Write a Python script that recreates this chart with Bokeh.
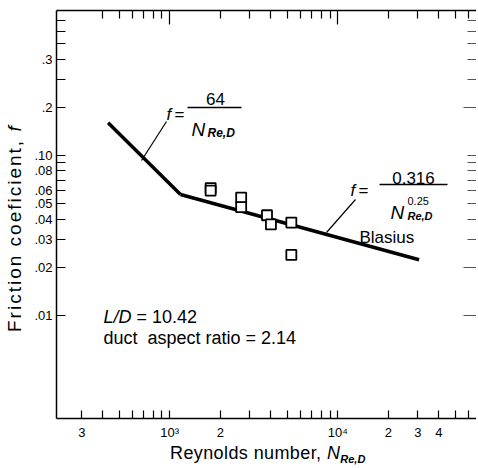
import math

from bokeh.embed import file_html
from bokeh.layouts import column, row
from bokeh.models import Div, FixedTicker, Label, LogAxis, Range1d
from bokeh.plotting import figure
from bokeh.resources import INLINE

# Measured friction coefficients (square symbols)
re_data = [1753, 1753, 2664, 2664, 3795, 4005, 5297, 5297]
f_data = [0.0626, 0.0604, 0.0546, 0.0475, 0.0423, 0.0371, 0.0381, 0.0239]

# Laminar correlation f = 64/Re and Blasius correlation f = 0.316/Re^0.25
laminar_re = [430, 1160]
laminar_f = [0.160, 0.057]
blasius_re = [1160, 30500]
blasius_f = [0.057, 0.0223]

# Axis ticks
x_major = [300, 1000, 2000, 10000, 20000, 30000, 40000]
x_labels = ["3", "10³", "2", "10⁴", "2", "3", "4"]
x_minor = [400, 500, 600, 700, 800, 900, 3000, 4000, 5000, 6000, 7000, 8000, 9000, 50000, 60000]
y_major = [0.01, 0.02, 0.03, 0.04, 0.05, 0.06, 0.08, 0.1, 0.2, 0.4]
y_labels = [".01", ".02", ".03", ".04", ".05", ".06", ".08", ".10", ".2", ".3"]
y_minor = [0.07, 0.09, 0.3, 0.5, 0.6, 0.7]

XMIN, XMAX = 212.0, 67000.0
YMIN, YMAX = 0.00227, 0.806
YLAB_W = 30                      # width of the column holding the y title
LEFT, TOP, FW, FH = 56, 10, 420, 408
BOTTOM = 24
XLAB_H = 26
FONT = "Liberation Sans"

p = figure(
    x_axis_type="log", y_axis_type="log",
    x_range=Range1d(XMIN, XMAX), y_range=Range1d(YMIN, YMAX),
    frame_width=FW, frame_height=FH,
    min_border_left=LEFT - YLAB_W, min_border_right=0, min_border_top=TOP,
    min_border_bottom=BOTTOM,
    output_backend="svg", toolbar_location=None,
)
p.outline_line_color = None
p.grid.visible = False
p.background_fill_color = "white"
p.border_fill_color = "white"

LX0, LX1 = math.log10(XMIN), math.log10(XMAX)
LY0, LY1 = math.log10(YMIN), math.log10(YMAX)


def dx(px):
    return 10 ** (LX0 + (px - LEFT) / FW * (LX1 - LX0))


def dy(py):
    return 10 ** (LY1 - (py - TOP) / FH * (LY1 - LY0))


def style_axis(ax, major_in, minor_in, width=1.5, color="black"):
    ax.major_tick_in = major_in
    ax.major_tick_out = 0
    ax.minor_tick_in = minor_in
    ax.minor_tick_out = 0
    ax.major_tick_line_color = color
    ax.minor_tick_line_color = color
    ax.major_tick_line_width = 1.2
    ax.minor_tick_line_width = 1.2
    ax.axis_line_width = width
    ax.axis_line_color = "black"


def hide_labels(ax):
    ax.major_label_text_font_size = "1px"
    ax.major_label_text_color = None
    ax.major_label_standoff = 0


xb = p.xaxis[0]
xb.ticker = FixedTicker(ticks=x_major, minor_ticks=x_minor)
xb.major_label_overrides = dict(zip(x_major, x_labels))
xb.major_label_text_font = FONT
xb.major_label_text_font_size = "13px"
xb.major_label_text_color = "black"
xb.major_label_standoff = 6
style_axis(xb, 8, 8)

yl = p.yaxis[0]
yl.ticker = FixedTicker(ticks=y_major, minor_ticks=y_minor)
yl.major_label_overrides = dict(zip(y_major, y_labels))
yl.major_label_text_font = FONT
yl.major_label_text_font_size = "13px"
yl.major_label_text_color = "black"
yl.major_label_standoff = 4
style_axis(yl, 9, 9)

top = LogAxis(ticker=FixedTicker(ticks=[1000, 10000], minor_ticks=x_minor + [2000, 20000, 30000, 40000]))
hide_labels(top)
style_axis(top, 14, 8)
p.add_layout(top, "above")

right = LogAxis(ticker=FixedTicker(ticks=[0.01, 0.02, 0.2],
                                   minor_ticks=[0.03, 0.04, 0.05, 0.06, 0.07, 0.08, 0.09, 0.1, 0.3, 0.4, 0.5, 0.6, 0.7]))
hide_labels(right)
style_axis(right, 13, 9, color="#555555")
right.axis_line_color = None
p.add_layout(right, "right")

# Correlation lines and data
p.line(laminar_re, laminar_f, line_color="black", line_width=3.5)
p.line(blasius_re, blasius_f, line_color="black", line_width=3.5)
p.scatter(re_data, f_data, marker="square", size=10, fill_color="white",
          line_color="black", line_width=1.8)

# Leader lines and fraction bars
seg_x0 = [dx(141), dx(326), dx(187), dx(379)]
seg_y0 = [dy(160), dy(232), dy(107), dy(184)]
seg_x1 = [dx(166), dx(355), dx(241), dx(447)]
seg_y1 = [dy(121), dy(199), dy(107), dy(184)]
p.segment(seg_x0, seg_y0, seg_x1, seg_y1, line_color="black",
          line_width=[1.2, 1.2, 1.4, 1.4])


def lab(px, py, text, size=17, style="normal", align="left"):
    p.add_layout(Label(
        x=dx(px), y=dy(py), text=text, text_font=FONT,
        text_font_size=f"{size}px", text_font_style=style, text_color="black",
        text_align=align, text_baseline="alphabetic",
    ))


# f = 64 / N_Re,D
lab(166, 114, "f", style="italic")
lab(174, 114, "=")
lab(215, 98, "64", align="center")
lab(191, 129, "N", size=19, style="italic")
lab(207, 132, "Re,D", size=12, style="bold italic")

# f = 0.316 / N^0.25_Re,D  (Blasius)
lab(350, 190, "f", style="italic")
lab(358, 190, "=")
lab(413, 177, "0.316", align="center")
lab(390, 212, "N", size=19, style="italic")
lab(407, 200, "0.25", size=11)
lab(407, 215, "Re,D", size=11, style="bold italic")
lab(359, 237, "Blasius")

# Test conditions
lab(103, 316, "L/D", size=18, style="italic")
lab(136, 316, "= 10.42", size=18)
lab(103, 337, "duct\u00a0\u00a0aspect ratio = 2.14", size=18)

# Axis titles, set as HTML so that italics and subscripts can be mixed
ytitle = Div(
    width=YLAB_W, height=TOP + FH + BOTTOM, margin=0,
    text=(
        "<div style=\"writing-mode:vertical-rl; transform:rotate(180deg); "
        "box-sizing:border-box; height:442px; width:24px; margin-left:3px; "
        "padding-top:110px; font-family:'Liberation Sans'; font-size:19px; "
        "line-height:24px; letter-spacing:2px; white-space:nowrap; color:black;\">"
        "Friction coeficient, <i>f</i></div>"
    ),
)
xtitle = Div(
    width=YLAB_W + LEFT - YLAB_W + FW + 2, height=XLAB_H, margin=0,
    text=(
        "<div style=\"padding-left:170px; font-family:'Liberation Sans'; "
        "font-size:18px; line-height:22px; letter-spacing:0.4px; "
        "white-space:nowrap; color:black;\">"
        "Reynolds number, <i>N</i><span style=\"position:relative; top:4px; "
        "font-size:11px; font-weight:bold; font-style:italic; letter-spacing:0;\">"
        "Re,D</span></div>"
    ),
)

page = column(row(ytitle, p, spacing=0), xtitle, spacing=0)

open("out.html", "w").write(file_html(page, INLINE))
